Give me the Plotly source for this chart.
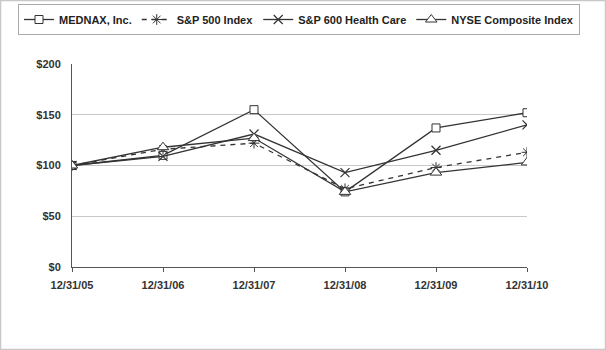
import plotly.graph_objects as go

dates = ["12/31/05", "12/31/06", "12/31/07", "12/31/08", "12/31/09", "12/31/10"]
mednax = [100, 110, 155, 74, 137, 152]
sp500 = [100, 116, 122, 77, 98, 113]
sp600hc = [100, 109, 131, 93, 115, 140]
nyse = [100, 118, 127, 74, 93, 103]
ytick_vals = [0, 50, 100, 150, 200]
ytick_text = ["$0", "$50", "$100", "$150", "$200"]

LC = "#333333"
fig = go.Figure()
fig.add_trace(go.Scatter(x=dates, y=mednax, name="MEDNAX, Inc.", mode="lines+markers",
                         line=dict(color=LC, width=1.3),
                         marker=dict(symbol="square", size=8, color="white", line=dict(color=LC, width=1))))
fig.add_trace(go.Scatter(x=dates, y=sp500, name="S&P 500 Index", mode="lines+markers",
                         line=dict(color=LC, width=1.3, dash="5px,5px"),
                         marker=dict(symbol="asterisk-open", size=9, color=LC, line=dict(color=LC, width=1))))
fig.add_trace(go.Scatter(x=dates, y=sp600hc, name="S&P 600 Health Care", mode="lines+markers",
                         line=dict(color=LC, width=1.3),
                         marker=dict(symbol="x-thin-open", size=9, color=LC, line=dict(color=LC, width=1.2))))
fig.add_trace(go.Scatter(x=dates, y=nyse, name="NYSE Composite Index", mode="lines+markers",
                         line=dict(color=LC, width=1.3),
                         marker=dict(symbol="triangle-up", size=10, color="white", line=dict(color=LC, width=1))))

W, H = 606, 350
T, B = 64, 83
PH = H - T - B
fig.add_shape(type="rect", xref="paper", yref="paper",
              x0=0.5 / W, x1=(W - 0.5) / W,
              y0=(H - B - (H - 0.5)) / PH, y1=(H - B - 0.5) / PH,
              line=dict(color="#c8c8c8", width=1.5), layer="below")

fig.update_layout(
    width=W, height=H,
    margin=dict(l=0, r=0, t=T, b=B, autoexpand=False),
    paper_bgcolor="white", plot_bgcolor="white",
    font=dict(family="Liberation Sans, Arial, sans-serif", size=11, color="#333333"),
    showlegend=True,
    legend=dict(orientation="h", xref="paper", yref="container",
                x=299 / W, xanchor="center", y=1 - 4 / H, yanchor="top",
                bordercolor="#aaaaaa", borderwidth=1,
                font=dict(family="Liberation Sans, Arial, sans-serif", size=11, color="#222222", weight="bold"),
                itemwidth=30, tracegroupgap=0),
    xaxis=dict(type="category", range=[0, 5], domain=[72 / W, 527 / W],
               showgrid=False, showline=True, linecolor="#555555",
               linewidth=1, ticks="outside", ticklen=4, tickcolor="#555555", ticklabelstandoff=4,
               tickfont=dict(weight="bold", color="#333333"), zeroline=False, automargin=False),
    yaxis=dict(range=[0, 200], tickvals=ytick_vals, ticktext=ytick_text, showgrid=True,
               gridcolor="#c8c8c8", gridwidth=1, showline=True, linecolor="#555555", linewidth=1,
               ticks="outside", ticklen=3, tickcolor="white", ticklabelstandoff=5,
               tickfont=dict(weight="bold", color="#333333"), zeroline=False, automargin=False),
)
fig.write_html("out.html")
